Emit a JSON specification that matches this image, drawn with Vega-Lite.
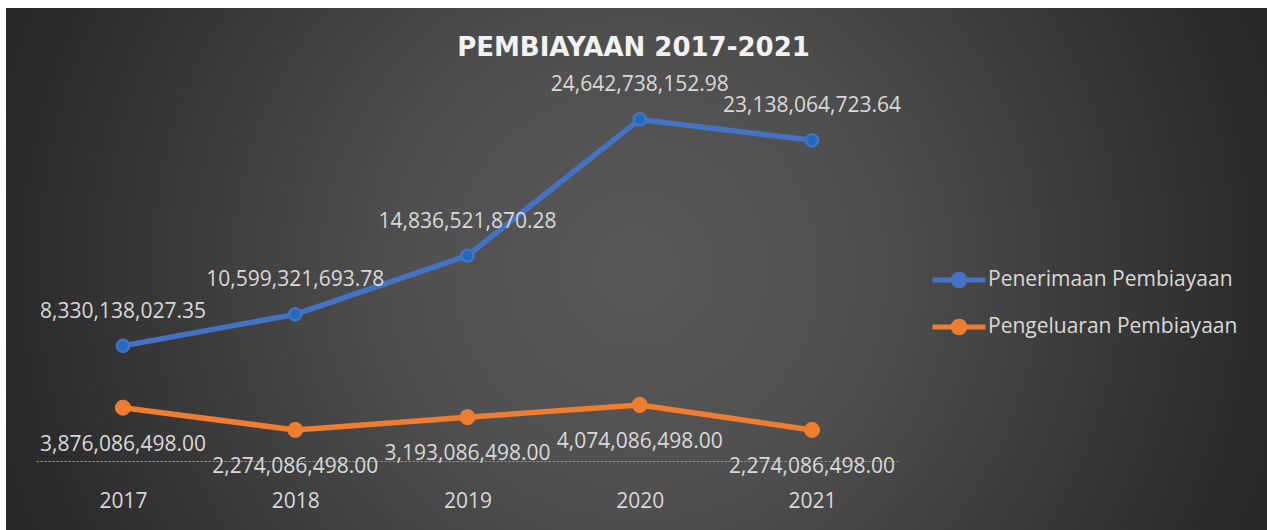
{
  "$schema": "https://vega.github.io/schema/vega-lite/v6.json",
  "width": 1261,
  "height": 522,
  "autosize": {"type": "none"},
  "padding": {"left": 6, "top": 8, "right": 0, "bottom": 0},
  "background": "#ffffff",
  "config": {
    "font": "Open Sans",
    "view": {
      "stroke": null,
      "fill": {
        "gradient": "radial",
        "x1": 0.5, "y1": 0.5, "r1": 0,
        "x2": 0.5, "y2": 0.5, "r2": 0.56,
        "stops": [
          {"offset": 0, "color": "#595959"},
          {"offset": 0.33, "color": "#4f4f4f"},
          {"offset": 0.88, "color": "#2b2b2b"},
          {"offset": 1, "color": "#272727"}
        ]
      }
    }
  },
  "title": {
    "text": "PEMBIAYAAN 2017-2021",
    "font": "DejaVu Sans",
    "fontWeight": "bold",
    "fontSize": 26,
    "color": "#f2f2f2",
    "anchor": "middle",
    "baseline": "alphabetic",
    "offset": -74,
    "dx": -3
  },
  "data": {
    "values": [
      {"year": 2017, "series": "Penerimaan Pembiayaan", "value": 8330138027.35},
      {"year": 2018, "series": "Penerimaan Pembiayaan", "value": 10599321693.78},
      {"year": 2019, "series": "Penerimaan Pembiayaan", "value": 14836521870.28},
      {"year": 2020, "series": "Penerimaan Pembiayaan", "value": 24642738152.98},
      {"year": 2021, "series": "Penerimaan Pembiayaan", "value": 23138064723.64},
      {"year": 2017, "series": "Pengeluaran Pembiayaan", "value": 3876086498.00},
      {"year": 2018, "series": "Pengeluaran Pembiayaan", "value": 2274086498.00},
      {"year": 2019, "series": "Pengeluaran Pembiayaan", "value": 3193086498.00},
      {"year": 2020, "series": "Pengeluaran Pembiayaan", "value": 4074086498.00},
      {"year": 2021, "series": "Pengeluaran Pembiayaan", "value": 2274086498.00}
    ]
  },
  "encoding": {
    "x": {
      "field": "year",
      "type": "quantitative",
      "scale": {"domain": [2016.3208, 2023.6415], "nice": false, "zero": false},
      "axis": {
        "values": [2017, 2018, 2019, 2020, 2021],
        "format": "d",
        "title": null,
        "domain": false,
        "ticks": false,
        "grid": false,
        "offset": -29,
        "labelPadding": 0,
        "labelBaseline": "middle",
        "labelFont": "Open Sans",
        "labelFontSize": 21,
        "labelColor": "#d9d9d9",
        "labelFlush": false,
        "labelOverlap": false
      }
    },
    "y": {
      "field": "value",
      "type": "quantitative",
      "scale": {"domain": [-4935000000, 32670000000], "nice": false, "zero": false},
      "axis": null
    }
  },
  "layer": [
    {
      "mark": {"type": "rule", "color": "#8c8c8c", "strokeWidth": 1, "strokeDash": [2, 2], "opacity": 0.8},
      "encoding": {
        "x": {"datum": 2016.5, "type": "quantitative"},
        "x2": {"datum": 2021.5},
        "y": {"datum": 0, "type": "quantitative"}
      }
    },
    {
      "mark": {"type": "line", "strokeWidth": 5.5, "strokeCap": "round", "strokeJoin": "round"},
      "encoding": {
        "color": {
          "field": "series",
          "type": "nominal",
          "scale": {
            "domain": ["Penerimaan Pembiayaan", "Pengeluaran Pembiayaan"],
            "range": ["#4472c4", "#ed7d31"]
          },
          "legend": {
            "title": null,
            "orient": "none",
            "legendX": 924,
            "legendY": 243,
            "symbolType": "M-1,0L1,0M0.22,0A0.22,0.22,0,1,1,-0.22,0A0.22,0.22,0,1,1,0.22,0Z",
            "symbolSize": 2809,
            "symbolStrokeWidth": 5,
            "labelFont": "Open Sans",
            "labelFontSize": 21,
            "labelColor": "#d9d9d9",
            "labelOffset": 0,
            "labelLimit": 0,
            "rowPadding": 2,
            "encode": {
              "symbols": {
                "update": {
                  "fill": {"scale": "color", "field": "value"},
                  "fillOpacity": {"value": 1}
                }
              }
            }
          }
        }
      }
    },
    {
      "transform": [{"filter": "datum.series === 'Penerimaan Pembiayaan'"}],
      "mark": {"type": "point", "shape": "circle", "filled": true, "fill": "#1f6bbd", "stroke": "#4472c4", "strokeWidth": 2.5, "size": 150, "opacity": 1}
    },
    {
      "transform": [{"filter": "datum.series === 'Pengeluaran Pembiayaan'"}],
      "mark": {"type": "point", "shape": "circle", "filled": true, "fill": "#ed7d31", "stroke": "#ed7d31", "strokeWidth": 1, "size": 230, "opacity": 1}
    },
    {
      "transform": [{"filter": "datum.series === 'Penerimaan Pembiayaan'"}],
      "mark": {"type": "text", "dy": -34, "baseline": "middle", "align": "center", "fontSize": 21, "font": "Open Sans", "color": "#d9d9d9"},
      "encoding": {"text": {"field": "value", "type": "quantitative", "format": ",.2f"}}
    },
    {
      "transform": [{"filter": "datum.series === 'Pengeluaran Pembiayaan'"}],
      "mark": {"type": "text", "dy": 37, "baseline": "middle", "align": "center", "fontSize": 21, "font": "Open Sans", "color": "#d9d9d9"},
      "encoding": {"text": {"field": "value", "type": "quantitative", "format": ",.2f"}}
    }
  ]
}
